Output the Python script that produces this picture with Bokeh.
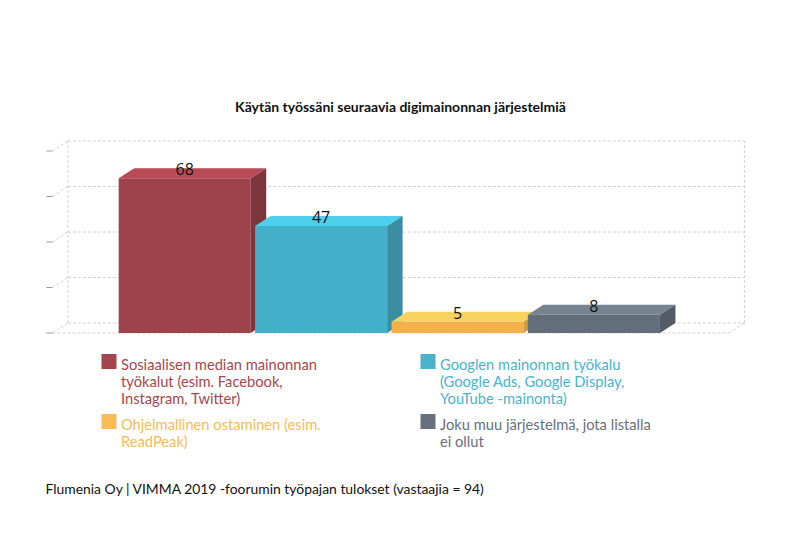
from bokeh.plotting import figure
from bokeh.models import Range1d, Label
from bokeh.core.properties import value
from bokeh.embed import file_html
from bokeh.resources import INLINE

# ---------------- data ----------------
chart_title = "Käytän työssäni seuraavia digimainonnan järjestelmiä"
footer_text = "Flumenia Oy | VIMMA 2019 -foorumin työpajan tulokset (vastaajia = 94)"
categories = [
    "Sosiaalisen median mainonnan työkalut (esim. Facebook, Instagram, Twitter)",
    "Googlen mainonnan työkalu (Google Ads, Google Display, YouTube -mainonta)",
    "Ohjelmallinen ostaminen (esim. ReadPeak)",
    "Joku muu järjestelmä, jota listalla ei ollut",
]
legend_lines = [
    ["Sosiaalisen median mainonnan", "työkalut (esim. Facebook,", "Instagram, Twitter)"],
    ["Googlen mainonnan työkalu", "(Google Ads, Google Display,", "YouTube -mainonta)"],
    ["Ohjelmallinen ostaminen (esim.", "ReadPeak)"],
    ["Joku muu järjestelmä, jota listalla", "ei ollut"],
]
values = [68, 47, 5, 8]
y_ticks = [0, 20, 40, 60, 80]

# ---------------- styles ----------------
front_colors = ["#9E424B", "#44AFC8", "#F5B04B", "#636E7B"]
top_colors = ["#B94B56", "#4DD0EB", "#F8D35F", "#76848F"]
side_colors = ["#7F353D", "#3A8EA2", "#D39A3F", "#525B66"]
legend_colors = ["#A4464F", "#49B3CC", "#F7BB5C", "#67717D"]
grid_color = "#D2D2D2"

# pixel <-> data mapping (picture pixels)
X0_PX, X_SCALE = 184.2, 136.4   # picture x of category 0 centre, px per category
Y0_PX, Y_SCALE = 332.5, 2.275   # picture y of value 0, px per unit
W, H = 784, 524


def X(px):
    return (px - X0_PX) / X_SCALE


def Y(py):
    return (Y0_PX - py) / Y_SCALE


DX = 15.5 / X_SCALE   # depth offset (x)
DY = 10.0 / Y_SCALE   # depth offset (y)
HALF = 0.484          # half bar width (category units)
XMIN, XMAX = -0.97, 3.99

p = figure(width=W, height=H, output_backend="svg", toolbar_location=None,
           x_range=Range1d(X(0), X(W)), y_range=Range1d(Y(H), Y(0)),
           x_axis_location=None, y_axis_location=None, min_border=0,
           title=None)
p.outline_line_color = None
p.xgrid.visible = False
p.ygrid.visible = False
p.background_fill_color = "white"
p.border_fill_color = "white"

# ---------------- 3D canvas grid ----------------
ymax = y_ticks[-1]
p.segment(x0=[XMIN + DX] * len(y_ticks), y0=[t + DY for t in y_ticks],
          x1=[XMAX + DX] * len(y_ticks), y1=[t + DY for t in y_ticks],
          line_color=grid_color, line_dash="3 2", line_width=1)
p.segment(x0=[XMIN] * len(y_ticks), y0=y_ticks,
          x1=[XMIN + DX] * len(y_ticks), y1=[t + DY for t in y_ticks],
          line_color=grid_color, line_dash="3 2", line_width=1)
p.segment(x0=[XMIN + DX, XMAX + DX], y0=[DY, DY],
          x1=[XMIN + DX, XMAX + DX], y1=[ymax + DY, ymax + DY],
          line_color=grid_color, line_dash="3 2", line_width=1)
p.segment(x0=[XMIN, XMAX], y0=[0, 0], x1=[XMAX, XMAX + DX], y1=[0, DY],
          line_color=grid_color, line_dash="3 2", line_width=1)
p.segment(x0=[XMIN - 6 / X_SCALE] * len(y_ticks), y0=y_ticks,
          x1=[XMIN] * len(y_ticks), y1=y_ticks,
          line_color="#9A9A9A", line_width=1)

# ---------------- 3D bars ----------------
for i, v in enumerate(values):
    l, r = i - HALF, i + HALF
    p.quad(left=[l], right=[r], bottom=[0], top=[v],
           fill_color=front_colors[i], line_color=None)
    p.patch(x=[l, r, r + DX, l + DX], y=[v, v, v + DY, v + DY],
            fill_color=top_colors[i], line_color=None)
    p.patch(x=[r, r + DX, r + DX, r], y=[0, DY, v + DY, v],
            fill_color=side_colors[i], line_color=None)

p.text(x=list(range(len(values))), y=values, text=[str(v) for v in values],
       text_font=value("Open Sans"), text_font_size="16px", text_color="#111111",
       text_align="center", text_baseline="alphabetic", y_offset=-9)

# ---------------- title ----------------
p.add_layout(Label(x=X(400), y=Y(105.5), text=chart_title, text_font="Lato",
                   text_font_size="14px", text_font_style="bold",
                   text_color="#111111", text_align="center",
                   text_baseline="alphabetic"))

# ---------------- legend ----------------
col_px = [101, 420]
row_px = [353.5, 413.5]
line_h = 17
for i, lines in enumerate(legend_lines):
    cx = col_px[i % 2]
    ry = row_px[i // 2]
    p.scatter(x=[X(cx + 7.5)], y=[Y(ry + 7.5)], marker="square", size=15,
              fill_color=legend_colors[i], line_color=None)
    for j, t in enumerate(lines):
        p.add_layout(Label(x=X(cx + 19.5), y=Y(ry + 10 + j * line_h), text=t,
                           text_font="Lato", text_font_size="14.7px",
                           text_color=legend_colors[i], text_align="left",
                           text_baseline="alphabetic"))

# ---------------- footer ----------------
p.add_layout(Label(x=X(45), y=Y(487.5), text=footer_text, text_font="Lato",
                   text_font_size="13.9px", text_color="#111111",
                   text_align="left", text_baseline="alphabetic"))

open("out.html", "w").write(file_html(p, INLINE))
